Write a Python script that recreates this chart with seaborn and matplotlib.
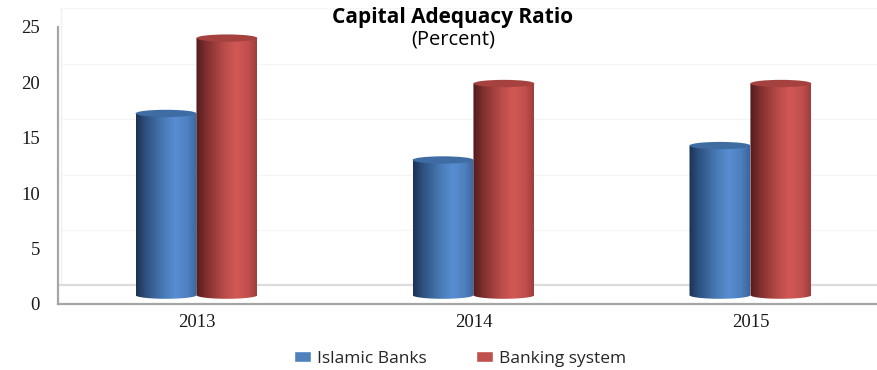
import numpy as np
import pandas as pd
import matplotlib
matplotlib.use("Agg")
import matplotlib.pyplot as plt
import seaborn as sns
from matplotlib.patches import Ellipse, PathPatch
from matplotlib.path import Path
from matplotlib.colors import same_color

# Data
years = ["2013", "2014", "2015"]
islamic = [16.4, 12.2, 13.5]
banking = [23.2, 19.1, 19.1]
series = ["Islamic Banks", "Banking system"]
yticks = [0, 5, 10, 15, 20, 25]

df = pd.DataFrame({
    "Year": years * 2,
    "Series": [series[0]] * 3 + [series[1]] * 3,
    "Value": islamic + banking,
})

sns.set_theme(style="white")
plt.rcParams["font.family"] = ["Open Sans", "DejaVu Sans"]

fig = plt.figure(figsize=(8.78, 3.70), dpi=100)
ax = fig.add_axes([58 / 878, 66 / 370, 819 / 878, 277 / 370])

palette = {"Islamic Banks": "#4F81BD", "Banking system": "#C0504D"}
sns.barplot(data=df, x="Year", y="Value", hue="Series", palette=palette,
            width=0.44, gap=0, saturation=1, ax=ax)

# keep legend handles, show legend later at figure bottom
leg = ax.get_legend()
handles = leg.legend_handles
labels = [t.get_text() for t in leg.get_texts()]
leg.remove()

# cylinder look: horizontal gradient body + darker top ellipse
floor = 0.8   # bars stand mid-depth on the 3D floor
eh = 0.33     # half height of the ellipses
stops = np.array([0, 0.15, 0.45, 0.65, 0.85, 1.0])
grads = {
    "Islamic Banks": np.array([[28, 50, 82], [45, 80, 125], [72, 122, 182],
                               [88, 142, 210], [78, 128, 192], [60, 102, 158]]) / 255,
    "Banking system": np.array([[80, 28, 28], [125, 45, 45], [182, 75, 72],
                                [210, 88, 85], [195, 80, 78], [158, 62, 60]]) / 255,
}
tops = {"Islamic Banks": "#3F6CA3", "Banking system": "#A5423F"}

xs = np.linspace(0, 1, 120)
for bar in list(ax.patches):
    x0, w, h = bar.get_x(), bar.get_width(), bar.get_height()
    name = next(k for k, c in palette.items() if same_color(bar.get_facecolor()[:3], c))
    bar.set_visible(False)
    y0, y1 = floor, floor + h
    t = np.linspace(0, np.pi, 40)
    arc = np.column_stack([x0 + w / 2 - (w / 2) * np.cos(t), y0 - eh * np.sin(t)])
    verts = np.vstack([[x0, y1], [x0, y0], arc, [x0 + w, y1], [x0, y1]])
    codes = [Path.MOVETO] + [Path.LINETO] * (len(verts) - 2) + [Path.CLOSEPOLY]
    clip = PathPatch(Path(verts, codes), transform=ax.transData,
                     facecolor="none", edgecolor="none")
    ax.add_patch(clip)
    col = np.stack([np.interp(xs, stops, grads[name][:, i]) for i in range(3)], axis=-1)
    img = ax.imshow(col[None, :, :], extent=[x0, x0 + w, y0 - eh, y1],
                    aspect="auto", interpolation="bilinear", zorder=3)
    img.set_clip_path(clip)
    ax.add_patch(Ellipse((x0 + w / 2, y1), w, 2 * eh, facecolor=tops[name],
                         edgecolor="none", zorder=4))

ax.set_xlim(-0.5, 2.457)
ax.set_ylim(0, 25)
ax.set_yticks(yticks)
ax.set_xlabel("")
ax.set_ylabel("")
ax.grid(False)

# 3D back wall and floor
depth = 1.67
for v in yticks[1:]:
    ax.plot([-0.49, 2.457], [v + depth] * 2, color="#f5f5f5", lw=1, zorder=0, clip_on=False)
ax.plot([-0.49, -0.49], [depth, 25 + depth], color="#f0f0f0", lw=1, zorder=0, clip_on=False)
ax.plot([-0.5, 2.457], [depth, depth], color="#dcdcdc", lw=1.6, zorder=1)

for s in ["top", "right"]:
    ax.spines[s].set_visible(False)
for s in ["left", "bottom"]:
    ax.spines[s].set_color("#a6a6a6")
    ax.spines[s].set_linewidth(1.6)

ax.tick_params(axis="y", length=0, pad=13)
ax.tick_params(axis="x", length=0, pad=7)
for lbl in ax.get_xticklabels() + ax.get_yticklabels():
    lbl.set_family(["Liberation Serif", "DejaVu Serif"])
    lbl.set_fontsize(13.5)
    lbl.set_color("#1a1a1a")

fig.text(453 / 878, 1 - 17 / 370, "Capital Adequacy Ratio", ha="center", va="center",
         fontsize=15, fontweight="bold", color="black")
fig.text(453 / 878, 1 - 40 / 370, "(Percent)", ha="center", va="center",
         fontsize=14.5, color="black")

fig.legend(handles, labels, loc="center", bbox_to_anchor=(460 / 878, 11 / 370), ncol=2,
           frameon=False, fontsize=12.5, handlelength=1.0, handleheight=0.6,
           handletextpad=0.35, columnspacing=2.8)

fig.savefig("out.png", dpi=100)
